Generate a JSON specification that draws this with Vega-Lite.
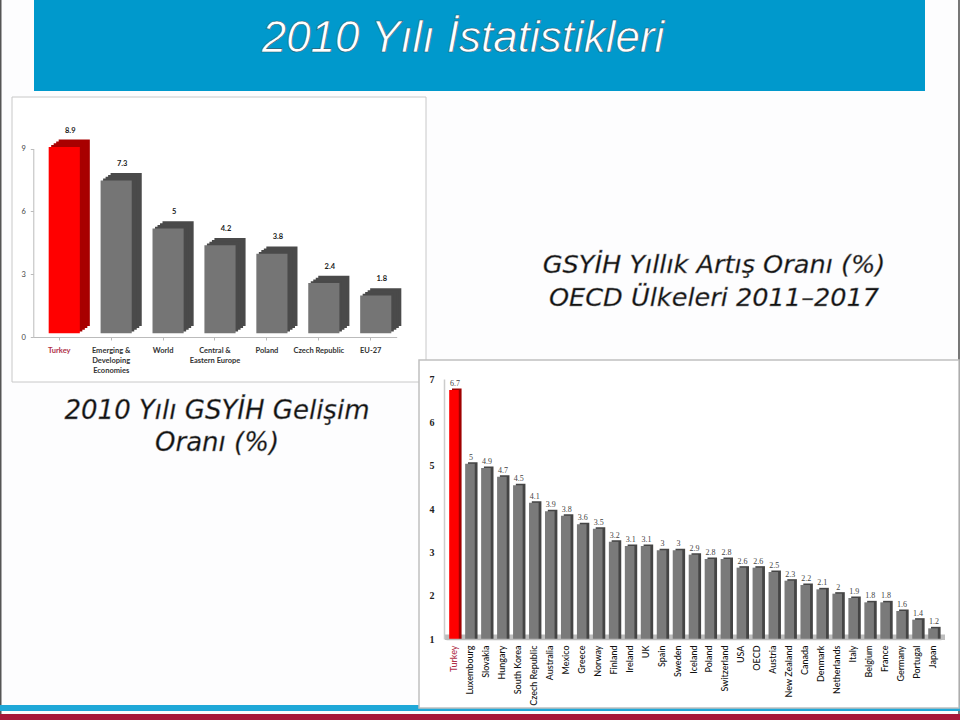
{"$schema":"https://vega.github.io/schema/vega-lite/v6.json","width":960,"height":720,"autosize":{"type":"none"},"padding":0,"background":"#ffffff","config":{"view":{"stroke":null}},
"data":{"values":[{}]},
"datasets":{"regions":[{"region":"Turkey","growth":8.9},{"region":"Emerging & Developing Economies","growth":7.3},{"region":"World","growth":5},{"region":"Central & Eastern Europe","growth":4.2},{"region":"Poland","growth":3.8},{"region":"Czech Republic","growth":2.4},{"region":"EU-27","growth":1.8}],
"countries":[{"country":"Turkey","growth":6.7},{"country":"Luxembourg","growth":5},{"country":"Slovakia","growth":4.9},{"country":"Hungary","growth":4.7},{"country":"South Korea","growth":4.5},{"country":"Czech Republic","growth":4.1},{"country":"Australia","growth":3.9},{"country":"Mexico","growth":3.8},{"country":"Greece","growth":3.6},{"country":"Norway","growth":3.5},{"country":"Finland","growth":3.2},{"country":"Ireland","growth":3.1},{"country":"UK","growth":3.1},{"country":"Spain","growth":3},{"country":"Sweden","growth":3},{"country":"Iceland","growth":2.9},{"country":"Poland","growth":2.8},{"country":"Switzerland","growth":2.8},{"country":"USA","growth":2.6},{"country":"OECD","growth":2.6},{"country":"Austria","growth":2.5},{"country":"New Zealand","growth":2.3},{"country":"Canada","growth":2.2},{"country":"Denmark","growth":2.1},{"country":"Netherlands","growth":2},{"country":"Italy","growth":1.9},{"country":"Belgium","growth":1.8},{"country":"France","growth":1.8},{"country":"Germany","growth":1.6},{"country":"Portugal","growth":1.4},{"country":"Japan","growth":1.2}]},
"layer":[
{"mark":{"type":"rect","x":0,"x2":960,"y":0,"y2":720,"fill":"#fdfdfe"},"encoding":{}},
{"mark":{"type":"rect","x":0,"x2":1.5,"y":0,"y2":720,"fill":"#555555"},"encoding":{}},
{"mark":{"type":"rect","x":958,"x2":960,"y":0,"y2":720,"fill":"#777777"},"encoding":{}},
{"mark":{"type":"rect","x":34,"x2":925,"y":0,"y2":91,"fill":"#0099cc"},"encoding":{}},
{"mark":{"type":"rect","x":0,"x2":960,"y":705,"y2":711,"fill":"#1fa8d8"},"encoding":{}},
{"mark":{"type":"rect","x":0,"x2":960,"y":714,"y2":720,"fill":"#a8193a"},"encoding":{}},
{"mark":{"type":"rect","x":12,"x2":426,"y":97,"y2":382,"fill":"#ffffff","stroke":"#c8c8c8","strokeWidth":1},"encoding":{}},
{"mark":{"type":"rect","x":419,"x2":959,"y":360,"y2":708,"fill":"#ffffff","stroke":"#c0c0c0","strokeWidth":1.5},"encoding":{}},
{"mark":{"type":"text","x":463,"y":52,"align":"center","baseline":"alphabetic","text":"2010  Yılı İstatistikleri","font":"Liberation Sans","fontStyle":"italic","fontSize":44,"fill":"#ffffff","stroke":"#2a5a70","strokeWidth":0.6},"encoding":{}},
{"mark":{"type":"text","x":714,"y":273,"align":"center","baseline":"alphabetic","text":"GSYİH Yıllık Artış Oranı (%)","font":"DejaVu Sans","fontStyle":"italic","fontSize":25.6,"fill":"#111111","stroke":"#888888","strokeWidth":0.4},"encoding":{}},
{"mark":{"type":"text","x":714,"y":306,"align":"center","baseline":"alphabetic","text":"OECD Ülkeleri 2011–2017","font":"DejaVu Sans","fontStyle":"italic","fontSize":25.6,"fill":"#111111","stroke":"#888888","strokeWidth":0.4},"encoding":{}},
{"mark":{"type":"text","x":217,"y":419,"align":"center","baseline":"alphabetic","text":"2010 Yılı GSYİH Gelişim","font":"DejaVu Sans","fontStyle":"italic","fontSize":26,"fill":"#111111","stroke":"#888888","strokeWidth":0.4},"encoding":{}},
{"mark":{"type":"text","x":217,"y":451,"align":"center","baseline":"alphabetic","text":"Oranı (%)","font":"DejaVu Sans","fontStyle":"italic","fontSize":26,"fill":"#111111","stroke":"#888888","strokeWidth":0.4},"encoding":{}},
{"mark":{"type":"rule","x":43,"x2":416,"y":133,"y2":133,"stroke":"#f2f2f2"},"encoding":{}},
{"mark":{"type":"rule","x":43,"x2":416,"y":196,"y2":196,"stroke":"#f2f2f2"},"encoding":{}},
{"mark":{"type":"rule","x":43,"x2":416,"y":259,"y2":259,"stroke":"#f2f2f2"},"encoding":{}},
{"mark":{"type":"rule","x":43,"x2":416,"y":322,"y2":322,"stroke":"#e4e4e4"},"encoding":{}},
{"mark":{"type":"rule","x":397,"x2":416,"y":337,"y2":322,"stroke":"#c4c4c4"},"encoding":{}},
{"mark":{"type":"rect","x":445,"x2":945,"y":634.5,"y2":640,"fill":"#bdbdbd"},"encoding":{}},
{"data":{"name":"regions"},"mark":{"type":"bar","xOffset":15,"yOffset":-11},
"encoding":{"color":{"condition":{"test":"datum.region==='Turkey'","value":"#a80000"},"value":"#4a4a4a"},
"x":{"field":"region","type":"nominal","sort":null,"title":null,"scale":{"range":[33.3,396.7],"paddingInner":0.4,"paddingOuter":0.2},"axis":{"zindex":1,"orient":"bottom","offset":-383,"labelAngle":0,"labelAlign":"center","labelBaseline":"top","labelFont":"Lato","labelFontWeight":"bold","labelFontSize":7.5,"labelPadding":6,"labelLineHeight":10,"labelLimit":0,"labelColor":{"condition":{"test":"datum.label==='Turkey'","value":"#b03048"},"value":"#333333"},"domainColor":"#bbbbbb","tickColor":"#bbbbbb","tickSize":3,"labelExpr":"datum.label==='Emerging & Developing Economies'?['Emerging &','Developing','Economies']:datum.label==='Central & Eastern Europe'?['Central &','Eastern Europe']:datum.label"}},
"y":{"field":"growth","type":"quantitative","title":null,"scale":{"domain":[0,9],"range":[337,148.5],"nice":false},"axis":{"zindex":1,"orient":"left","offset":-33.3,"values":[0,3,6,9],"grid":false,"labelFont":"Lato","labelFontSize":7.5,"labelColor":"#444444","labelPadding":5,"domainColor":"#bbbbbb","tickColor":"#bbbbbb","tickSize":3}}}},
{"data":{"name":"regions"},
"encoding":{"x":{"field":"region","type":"nominal","sort":null,"scale":{"range":[33.3,396.7],"paddingInner":0.4,"paddingOuter":0.2},"axis":null},
"y":{"field":"growth","type":"quantitative","scale":{"domain":[0,9],"range":[337,148.5],"nice":false},"axis":null}},
"layer":[
{"mark":{"type":"bar","xOffset":12.5,"yOffset":-9},"encoding":{"color":{"condition":{"test":"datum.region==='Turkey'","value":"#a80000"},"value":"#4a4a4a"}}},
{"mark":{"type":"bar","xOffset":10,"yOffset":-7.3},"encoding":{"color":{"condition":{"test":"datum.region==='Turkey'","value":"#a80000"},"value":"#4a4a4a"}}},
{"mark":{"type":"bar","xOffset":7.5,"yOffset":-5.5},"encoding":{"color":{"condition":{"test":"datum.region==='Turkey'","value":"#a80000"},"value":"#4a4a4a"}}},
{"mark":{"type":"bar","xOffset":5,"yOffset":-3.7},"encoding":{"color":{"condition":{"test":"datum.region==='Turkey'","value":"#ff0000"},"value":"#757575"}}},
{"mark":{"type":"text","font":"Lato","fontWeight":"bold","fontSize":7.5,"fill":"#222222","dx":11,"dy":-20,"baseline":"middle"},"encoding":{"text":{"field":"growth","type":"nominal"}}}
]},
{"data":{"name":"countries"},"mark":{"type":"bar","xOffset":2.8,"yOffset":-3.5},
"encoding":{"color":{"condition":{"test":"datum.country==='Turkey'","value":"#a00000"},"value":"#454545"},
"x":{"field":"country","type":"nominal","sort":null,"title":null,"scale":{"range":[446,941],"paddingInner":0.4,"paddingOuter":0.2},"axis":{"zindex":1,"orient":"bottom","offset":-81,"labelAngle":-90,"labelAlign":"right","labelBaseline":"middle","labelFont":"Lato","labelFontWeight":500,"labelFontSize":9,"labelPadding":6,"labelLimit":0,"ticks":false,"domainColor":"#bbbbbb","domainWidth":1.5,"labelColor":{"condition":{"test":"datum.label==='Turkey'","value":"#b03048"},"value":"#111111"}}},
"y":{"field":"growth","type":"quantitative","title":null,"scale":{"domain":[1,7],"range":[639,379],"nice":false,"zero":false},"axis":{"zindex":1,"orient":"left","offset":-444,"values":[1,2,3,4,5,6,7],"grid":false,"ticks":false,"labelFont":"Liberation Serif","labelFontWeight":"bold","labelFontSize":10,"labelColor":"#222222","labelPadding":10,"domainColor":"#cccccc","domainWidth":1.5}},
"y2":{"datum":1}}},
{"data":{"name":"countries"},
"encoding":{"x":{"field":"country","type":"nominal","sort":null,"scale":{"range":[446,941],"paddingInner":0.4,"paddingOuter":0.2},"axis":null},
"y":{"field":"growth","type":"quantitative","scale":{"domain":[1,7],"range":[639,379],"nice":false,"zero":false},"axis":null}},
"layer":[
{"mark":{"type":"bar","yOffset":-2},"encoding":{"y2":{"datum":1},"color":{"condition":{"test":"datum.country==='Turkey'","value":"#ff0000"},"value":"#7a7a7a"}}},
{"mark":{"type":"text","font":"Liberation Serif","fontSize":8,"fill":"#444444","dx":1,"dy":-8,"baseline":"middle"},"encoding":{"text":{"field":"growth","type":"nominal"}}}
]}
],
"resolve":{"scale":{"x":"independent","y":"independent"},"axis":{"x":"independent","y":"independent"}}}
